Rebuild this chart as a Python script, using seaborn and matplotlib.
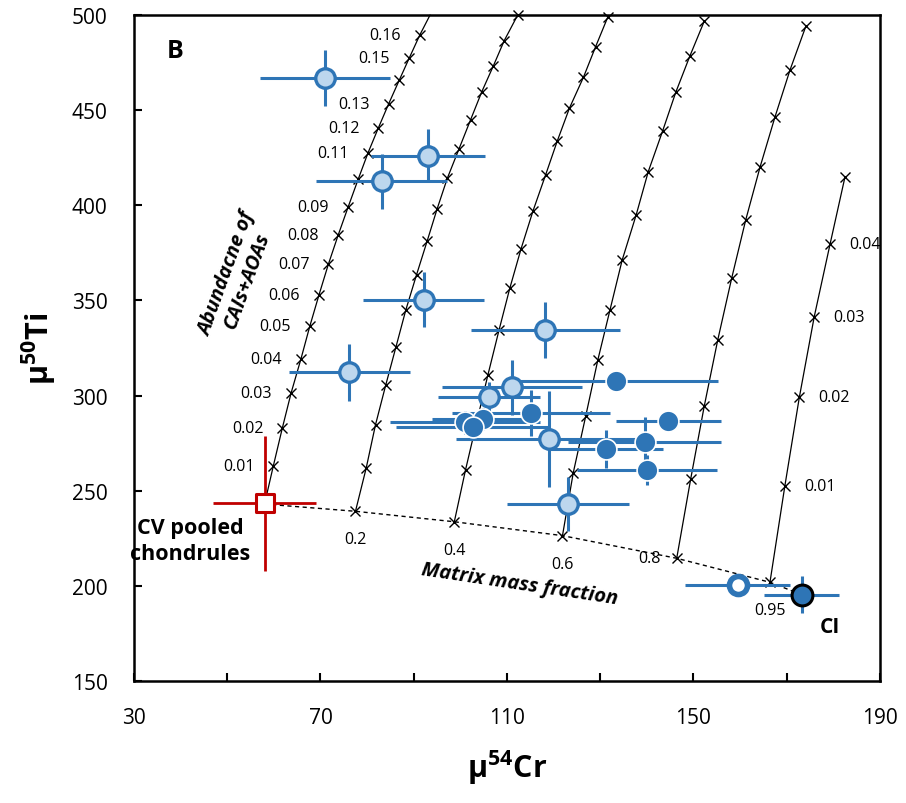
import numpy as np
import matplotlib
matplotlib.use("Agg")
import matplotlib.pyplot as plt
import pandas as pd
import seaborn as sns

# mixing curves: one per matrix mass fraction, markers every 0.01 of CAIs+AOAs
m00_x = [58.0, 59.9, 61.8, 63.7, 65.8, 67.7, 69.7, 71.7, 73.8, 75.9, 78.1, 80.2, 82.4, 84.6, 86.9, 89.0, 91.3, 93.5]
m00_y = [243.0, 263.2, 282.8, 301.4, 319.2, 336.4, 353.1, 369.1, 384.4, 398.9, 413.8, 427.6, 440.6, 453.2, 465.8, 477.2, 489.5, 500.0]
m20_x = [77.5, 79.8, 81.8, 84.0, 86.2, 88.3, 90.6, 92.9, 95.0, 97.2, 99.7, 102.2, 104.6, 107.1, 109.4, 112.3]
m20_y = [239.2, 261.9, 284.7, 305.6, 325.7, 345.0, 363.5, 381.4, 398.0, 414.2, 429.6, 445.0, 459.7, 473.4, 486.5, 500.0]
m40_x = [98.7, 101.1, 103.5, 105.9, 108.3, 110.6, 113.0, 115.6, 118.3, 120.8, 123.4, 126.4, 129.0, 131.6]
m40_y = [233.7, 260.9, 286.0, 310.8, 334.5, 356.4, 377.0, 397.2, 416.1, 433.9, 451.1, 467.3, 483.3, 498.8]
m60_x = [121.9, 124.2, 126.9, 129.5, 132.1, 134.7, 137.7, 140.3, 143.4, 146.2, 149.2, 152.3]
m60_y = [226.4, 259.3, 289.4, 318.9, 345.1, 371.2, 394.9, 417.7, 439.2, 459.4, 478.3, 496.7]
m80_x = [146.4, 149.4, 152.3, 155.2, 158.2, 161.2, 164.3, 167.5, 170.7, 174.1]
m80_y = [214.5, 256.2, 294.4, 329.2, 361.8, 392.3, 420.3, 446.6, 471.1, 494.1]
m95_x = [166.4, 169.6, 172.7, 175.9, 179.3, 182.5]
m95_y = [201.9, 252.6, 299.1, 341.5, 379.7, 415.0]

# chondrule - CI mixing line (matrix mass fraction)
mix_x = [58.0, 77.5, 98.7, 121.9, 146.4, 166.4, 173.2]
mix_y = [243.0, 239.2, 233.7, 226.4, 214.5, 201.9, 195.4]
mix_labels = ["0.2", "0.4", "0.6", "0.8", "0.95"]

left_labels = ["0.01", "0.02", "0.03", "0.04", "0.05", "0.06", "0.07", "0.08", "0.09",
               "", "0.11", "0.12", "0.13", "", "0.15", "0.16"]
right_labels = ["0.01", "0.02", "0.03", "0.04"]

# chondrule data
light_x = [71.0, 93.1, 83.1, 92.1, 76.2, 118.2, 111.1, 106.1, 119.0, 123.1]
light_y = [466.9, 426.1, 412.6, 350.4, 312.2, 334.6, 304.3, 299.1, 277.2, 243.0]
light_xerr = [14.0, 12.2, 14.0, 13.0, 13.0, 16.0, 15.0, 11.0, 20.0, 13.0]
light_yerr = [14.6, 14.0, 14.5, 14.5, 15.0, 14.8, 14.5, 8.0, 25.0, 14.0]

dark_x = [133.4, 115.1, 101.0, 104.9, 102.8, 144.6, 139.5, 131.2, 140.0]
dark_y = [307.8, 290.8, 285.9, 287.7, 283.3, 286.8, 275.8, 271.9, 260.9]
dark_xerr = [21.8, 17.0, 16.0, 11.0, 16.5, 11.3, 16.4, 12.3, 15.0]
dark_yerr = [4.0, 12.0, 6.0, 6.0, 6.0, 4.0, 13.0, 10.0, 8.0]

open_x, open_y, open_xerr, open_yerr = [159.5], [200.5], [11.3], [3.0]
ci_x, ci_y, ci_xerr, ci_yerr = [173.2], [195.4], [8.0], [9.6]
cv_x, cv_y, cv_xerr, cv_yerr = [58.0], [243.3], [11.0], [35.6]

x_major = [30, 70, 110, 150, 190]
x_minor = [50, 90, 130, 170]
y_major = [150, 200, 250, 300, 350, 400, 450, 500]

blue = "#2E75B6"
light = "#BDD7EE"
red = "#C00000"

sns.set_style("ticks")
plt.rcParams['font.family'] = ['Open Sans', 'DejaVu Sans']
plt.rcParams['mathtext.fontset'] = 'custom'
plt.rcParams['mathtext.rm'] = 'Open Sans'
plt.rcParams['mathtext.bf'] = 'Open Sans:bold'
for key in ['text.color', 'axes.labelcolor', 'xtick.color', 'ytick.color', 'axes.edgecolor']:
    plt.rcParams[key] = 'black'

fig = plt.figure(figsize=(9.06, 8.04), dpi=100)
ax = fig.add_axes([0.1479, 0.1517, 0.8234, 0.8284])

# mixing curves
curves = [(m00_x, m00_y), (m20_x, m20_y), (m40_x, m40_y),
          (m60_x, m60_y), (m80_x, m80_y), (m95_x, m95_y)]
for i, (cx, cy) in enumerate(curves):
    n = len(cx) - 1 if i == 0 else len(cx)
    sns.lineplot(x=cx, y=cy, ax=ax, color="black", lw=0.9, sort=False, estimator=None,
                 marker="x", ms=7.5, mew=1.0, mec="black", markevery=list(range(n)),
                 clip_on=False, zorder=2)

sns.lineplot(x=mix_x, y=mix_y, ax=ax, color="black", lw=1.0, sort=False, estimator=None,
             linestyle=(0, (3, 2.5)), zorder=2)

# labels along curves
for k, lab in enumerate(left_labels):
    if lab:
        ax.annotate(lab, (m00_x[k + 1], m00_y[k + 1]), xytext=(-19, 0), textcoords="offset pixels",
                    ha="right", va="center", fontsize=11.5)
for k, lab in enumerate(right_labels):
    ax.annotate(lab, (m95_x[k + 1], m95_y[k + 1]), xytext=(19, 0), textcoords="offset pixels",
                ha="left", va="center", fontsize=11.5)
base_pts = [(m20_x[0], m20_y[0]), (m40_x[0], m40_y[0]), (m60_x[0], m60_y[0]),
            (m80_x[0], m80_y[0]), (m95_x[0], m95_y[0])]
for lab, (bx, by) in zip(mix_labels, base_pts):
    if lab == "0.8":
        ax.annotate(lab, (bx, by), xytext=(-16, 0), textcoords="offset pixels",
                    ha="right", va="center", fontsize=11.5)
    else:
        ax.annotate(lab, (bx, by), xytext=(0, -28), textcoords="offset pixels",
                    ha="center", va="center", fontsize=11.5)

# error bars
ax.errorbar(light_x, light_y, xerr=light_xerr, yerr=light_yerr, fmt="none",
            ecolor=blue, elinewidth=2.2, capsize=0, zorder=3)
ax.errorbar(dark_x, dark_y, xerr=dark_xerr, yerr=dark_yerr, fmt="none",
            ecolor=blue, elinewidth=2.2, capsize=0, zorder=3)
ax.errorbar(open_x + ci_x, open_y + ci_y, xerr=open_xerr + ci_xerr, yerr=open_yerr + ci_yerr,
            fmt="none", ecolor=blue, elinewidth=2.2, capsize=0, zorder=3)
ax.errorbar(cv_x, cv_y, xerr=cv_xerr, yerr=cv_yerr, fmt="none",
            ecolor=red, elinewidth=2.0, capsize=0, zorder=3)

# points
sns.scatterplot(x=light_x, y=light_y, ax=ax, s=14 ** 2, color=light, edgecolor=blue,
                linewidth=2.4, zorder=4)
sns.scatterplot(x=dark_x, y=dark_y, ax=ax, s=15 ** 2, color=blue, edgecolor="white",
                linewidth=1.2, zorder=5)
sns.scatterplot(x=open_x, y=open_y, ax=ax, s=13 ** 2, color="white", edgecolor=blue,
                linewidth=4.0, zorder=5)
sns.scatterplot(x=ci_x, y=ci_y, ax=ax, s=15 ** 2, color=blue, edgecolor="black",
                linewidth=2.2, zorder=6)
sns.scatterplot(x=cv_x, y=cv_y, ax=ax, s=12.3 ** 2, marker="s", color="white", edgecolor=red,
                linewidth=2.2, zorder=6)

# text annotations
ax.text(38.8, 481.1, "B", fontsize=18, fontweight="bold", ha="center", va="center")
ax.text(42.0, 224.0, "CV pooled\nchondrules", fontsize=15.5, fontweight="bold",
        ha="center", va="center", linespacing=1.3)
ax.text(179.3, 178.4, "CI", fontsize=15, fontweight="bold", ha="center", va="center")
ax.text(112.8, 201.0, "Matrix mass fraction", fontsize=14.5, fontweight="bold", style="italic",
        ha="center", va="center", rotation=-8.5, rotation_mode="anchor")
ax.text(52.2, 362.5, "Abundacne of\nCAIs+AOAs", fontsize=14.5, fontweight="bold", style="italic",
        ha="center", va="center", rotation=70, linespacing=1.1)

ax.set_xlim(30, 190)
ax.set_ylim(150, 500)
ax.set_xticks(x_major)
ax.set_xticks(x_minor, minor=True)
ax.set_yticks(y_major)
ax.tick_params(which="both", direction="in", length=6, width=1.5, top=False, right=False)
ax.tick_params(which="major", labelsize=15, pad=19)
for sp in ax.spines.values():
    sp.set_linewidth(1.8)
    sp.set_color("black")

ax.set_xlabel("μ$^{\\mathbf{54}}$Cr", fontsize=22, fontweight="bold", labelpad=14)
ax.set_ylabel("μ$^{\\mathbf{50}}$Ti", fontsize=22, fontweight="bold", labelpad=10)

fig.savefig("out.png", dpi=100)
